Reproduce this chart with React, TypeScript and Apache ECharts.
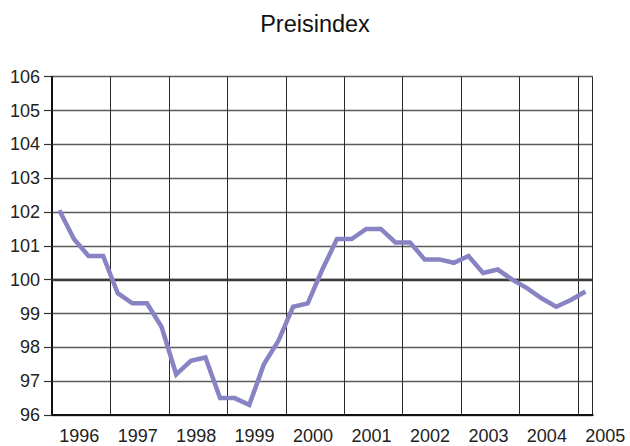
import React, { useEffect, useRef } from "react";
import * as echarts from "echarts";

const titleText = "Preisindex";
const yearLabels = ["1996", "1997", "1998", "1999", "2000", "2001", "2002", "2003", "2004", "2005"];
// quarterly values, 1996 Q1 .. 2005 Q1
const indexValues = [
  102.05, 101.2, 100.7, 100.7,
  99.6, 99.3, 99.3, 98.6,
  97.2, 97.6, 97.7, 96.5,
  96.5, 96.3, 97.5, 98.2,
  99.2, 99.3, 100.3, 101.2,
  101.2, 101.5, 101.5, 101.1,
  101.1, 100.6, 100.6, 100.5,
  100.7, 100.2, 100.3, 100.0,
  99.75, 99.45, 99.2, 99.4,
  99.65,
];
const yMin = 96;
const yMax = 106;
const referenceLevel = 100;
const quartersPerYear = 4;

export default function App() {
  const ref = useRef<HTMLDivElement>(null);
  useEffect(() => {
    if (!ref.current) return;
    const chart = echarts.init(ref.current, null, { renderer: "svg" });
    const nQ = indexValues.length;
    const font = "Liberation Sans, Arial, Helvetica, sans-serif";
    chart.setOption({
      animation: false,
      backgroundColor: "#ffffff",
      title: {
        text: titleText,
        left: "center",
        top: 7,
        textStyle: { fontSize: 23.5, fontWeight: "normal", color: "#111", fontFamily: font },
      },
      grid: {
        left: 52,
        right: 37.3,
        top: 76.7,
        bottom: 31,
        containLabel: false,
      },
      xAxis: {
        type: "value",
        min: 0,
        max: nQ,
        interval: quartersPerYear,
        axisLine: { show: true, onZero: false, lineStyle: { color: "#111", width: 2 } },
        axisTick: { show: false },
        axisLabel: { show: false },
        splitLine: { show: true, lineStyle: { color: "#2a2a2a", width: 1 } },
      },
      yAxis: {
        type: "value",
        min: yMin,
        max: yMax,
        interval: 1,
        axisLine: { show: true, lineStyle: { color: "#111", width: 2 } },
        axisTick: { show: true, length: 8, lineStyle: { color: "#333", width: 1.2 } },
        axisLabel: { show: true, fontSize: 18, color: "#222", margin: 12, fontFamily: font },
        splitLine: { show: true, lineStyle: { color: "#5a5a5a", width: 1.4 } },
      },
      series: [
        {
          type: "line",
          data: indexValues.map((v, i) => [i + 0.5, v]),
          symbol: "none",
          lineStyle: { color: "#8884c4", width: 4.5, join: "miter" },
          z: 5,
          markLine: {
            silent: true,
            symbol: "none",
            label: { show: false },
            lineStyle: { color: "#3c3c3c", width: 2.4, type: "solid" },
            data: [{ yAxis: referenceLevel }],
            z: 3,
          },
        },
      ],
    });
    // year labels centred on each year span, positioned through the axis scales
    const baseY = chart.convertToPixel({ yAxisIndex: 0 }, yMin) as number;
    const labelEls = yearLabels.map((lab, k) => {
      const cx = chart.convertToPixel({ xAxisIndex: 0 }, k * quartersPerYear + quartersPerYear / 2) as number;
      return {
        type: "text",
        x: cx - 2,
        y: baseY + 12,
        style: { text: lab, fontSize: 18, fill: "#222", fontFamily: font, align: "center", verticalAlign: "top" },
      };
    });
    chart.setOption({ graphic: labelEls });
    return () => chart.dispose();
  }, []);
  return (
    <div
      ref={ref}
      style={{ position: "fixed", left: 0, top: 0, width: 630, height: 446, background: "#fff" }}
    />
  );
}
